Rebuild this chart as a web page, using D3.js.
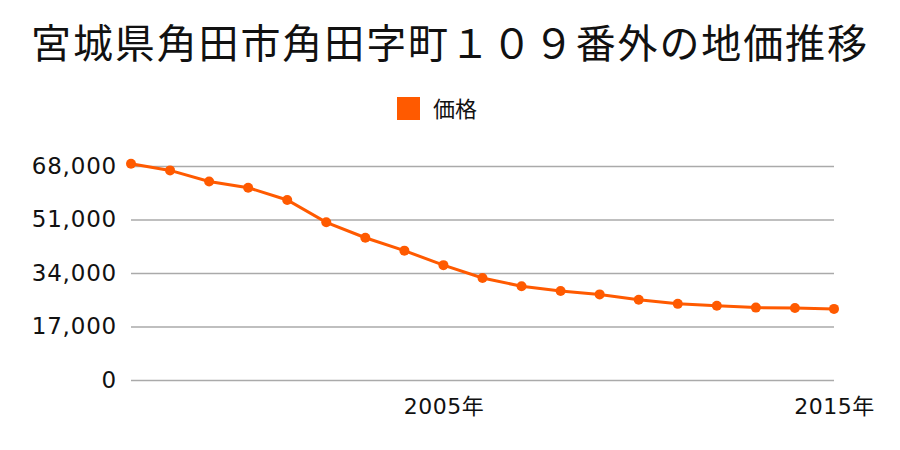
<!DOCTYPE html>
<html><head><meta charset="utf-8">
<script src="https://cdn.jsdelivr.net/npm/d3@7"></script>
<style>body{margin:0;background:#fff}svg{display:block}text{font-family:"Noto Sans CJK JP","Noto Sans",sans-serif}</style>
</head><body>
<svg id="c" width="900" height="450"></svg>
<script>
const title = "宮城県角田市角田字町１０９番外の地価推移";
const seriesName = "価格";
const years = [1997,1998,1999,2000,2001,2002,2003,2004,2005,2006,2007,2008,2009,2010,2011,2012,2013,2014,2015];
const prices = [68700,66600,63100,61100,57200,50100,45200,41100,36500,32400,29800,28300,27200,25500,24200,23600,23000,22900,22600];
const yTicks = [0,17000,34000,51000,68000];
const xTickYears = [2005,2015];

const svg = d3.select("#c");
const color = "#ff5a00";
const numFont = '"DejaVu Sans","Noto Sans CJK JP",sans-serif';
const plotL = 131, plotR = 834, plotT = 166, plotB = 380;
const x = d3.scaleLinear().domain([d3.min(years), d3.max(years)]).range([plotL, plotR]);
const y = d3.scaleLinear().domain([0, 68000]).range([plotB, plotT]);

svg.append("text").attr("x",31).attr("y",58)
  .attr("font-size",40).attr("fill","#111")
  .attr("textLength",836).attr("lengthAdjust","spacing").text(title);

svg.append("rect").attr("x",397).attr("y",97).attr("width",23).attr("height",23).attr("fill",color);
svg.append("text").attr("x",433).attr("y",117).attr("font-size",22).attr("fill","#111").text(seriesName);

const yAxis = d3.axisLeft(y).tickValues(yTicks).tickSize(-(plotR-plotL)).tickPadding(14)
  .tickFormat(d3.format(","));
const gy = svg.append("g").attr("transform",`translate(${plotL},0)`).call(yAxis);
gy.select(".domain").remove();
gy.selectAll(".tick line").attr("stroke","#aaa").attr("stroke-width",1.3);
gy.selectAll(".tick text").attr("font-size",23).attr("fill","#111")
  .style("font-family",numFont).style("letter-spacing","0.8px");

const xAxis = d3.axisBottom(x).tickValues(xTickYears).tickSize(0).tickPadding(18)
  .tickFormat(d => d + "年");
const gx = svg.append("g").attr("transform",`translate(0,${plotB})`).call(xAxis);
gx.select(".domain").remove();
gx.selectAll(".tick text").attr("font-size",22).attr("fill","#111")
  .style("font-family",numFont).style("letter-spacing","0.5px");

const data = years.map((yr,i)=>({yr, v:prices[i]}));
svg.append("path").datum(data)
  .attr("fill","none").attr("stroke",color).attr("stroke-width",3)
  .attr("d", d3.line().x(d=>x(d.yr)).y(d=>y(d.v)));
svg.selectAll("circle.pt").data(data).enter().append("circle").attr("class","pt")
  .attr("cx",d=>x(d.yr)).attr("cy",d=>y(d.v)).attr("r",5).attr("fill",color);
</script>
</body></html>
